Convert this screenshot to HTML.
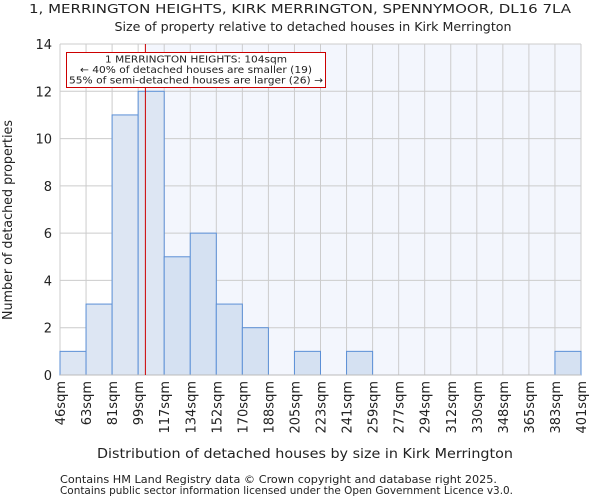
<!DOCTYPE html>
<html><head><meta charset="utf-8"><style>
body{margin:0;background:#fff;font-family:"DejaVu Sans","Liberation Sans",sans-serif;}
svg text{font-family:"DejaVu Sans","Liberation Sans",sans-serif;fill:#222;}
</style></head><body>
<svg id="c" width="600" height="500" xmlns="http://www.w3.org/2000/svg">
<text x="300" y="13" font-size="12.5" text-anchor="middle" textLength="542" lengthAdjust="spacingAndGlyphs">1, MERRINGTON HEIGHTS, KIRK MERRINGTON, SPENNYMOOR, DL16 7LA</text>
<text x="313" y="31" font-size="12.5" text-anchor="middle" textLength="397" lengthAdjust="spacingAndGlyphs">Size of property relative to detached houses in Kirk Merrington</text>
<g id="plot"></g>
<text x="305" y="458" font-size="13" text-anchor="middle" textLength="416" lengthAdjust="spacingAndGlyphs">Distribution of detached houses by size in Kirk Merrington</text>
<text transform="translate(12,220) rotate(-90)" font-size="13" text-anchor="middle" textLength="200" lengthAdjust="spacingAndGlyphs">Number of detached properties</text>
<text x="60" y="483" font-size="10.5" textLength="437" lengthAdjust="spacingAndGlyphs">Contains HM Land Registry data © Crown copyright and database right 2025.</text>
<text x="60" y="494" font-size="10.5" textLength="453" lengthAdjust="spacingAndGlyphs">Contains public sector information licensed under the Open Government Licence v3.0.</text>
</svg>
<script>
const binLabels=["46sqm","63sqm","81sqm","99sqm","117sqm","134sqm","152sqm","170sqm","188sqm","205sqm","223sqm","241sqm","259sqm","277sqm","294sqm","312sqm","330sqm","348sqm","365sqm","383sqm","401sqm"];
const binEdges=[46,63,81,99,117,134,152,170,188,205,223,241,259,277,294,312,330,348,365,383,401];
const counts=[1,3,11,12,5,6,3,2,0,1,0,1,0,0,0,0,0,0,0,1];
const yTicks=[0,2,4,6,8,10,12,14];
const propertySize=104;
const NS="http://www.w3.org/2000/svg";
const X0=60,X1=581,Y0=375,Y1=44,YMAX=14;
const n=counts.length;
const xi=i=>X0+(X1-X0)*i/n;
function xv(v){let i=0;while(i<n-1&&v>binEdges[i+1])i++;return xi(i)+(v-binEdges[i])/(binEdges[i+1]-binEdges[i])*(X1-X0)/n;}
const y=v=>Y0-(Y0-Y1)*v/YMAX;
const g=document.getElementById('plot');
function el(t,a){const e=document.createElementNS(NS,t);for(const k in a)e.setAttribute(k,a[k]);g.appendChild(e);return e;}
const px=xv(propertySize);
let bg=el('rect',{x:px,y:Y1,width:X1-px,height:Y0-Y1,fill:'#f3f6fd'});


yTicks.forEach(t=>{
 const l=el('line',{x1:X0,x2:X1,y1:y(t),y2:y(t),stroke:'#cccccc'});
 
 
 const tx=el('text',{x:X0-8,y:y(t)+5,'font-size':13,'text-anchor':'end'});tx.textContent=t;
 
 
});
for(let i=0;i<=n;i++){
 const l=el('line',{x1:xi(i),x2:xi(i),y1:Y1,y2:Y0,stroke:'#cccccc'});
 
 
}
counts.forEach((c,i)=>{
 if(c<=0)return;
 const r=el('rect',{x:xi(i),y:y(c),width:(X1-X0)/n,height:Y0-y(c),fill:xi(i)+1<px?'#dde6f3':'#d5e1f2',stroke:'#5b8fd6','stroke-width':1});
 
 
});
binLabels.forEach((b,i)=>{
 const t=el('text',{transform:`translate(${xi(i)+5},381) rotate(-90)`,'font-size':13,'text-anchor':'end'});t.textContent=b;
 
 
});
const ax=el('line',{x1:X0,x2:X1,y1:Y0,y2:Y0,stroke:'#bbbbbb'});


const rl=el('line',{x1:px,x2:px,y1:Y1,y2:Y0,stroke:'#cc0000','stroke-width':1});


const box=el('rect',{x:66.5,y:52.5,width:259,height:35,fill:'#fff',stroke:'#cc0000'});


const annLines=["1 MERRINGTON HEIGHTS: 104sqm","← 40% of detached houses are smaller (19)","55% of semi-detached houses are larger (26) →"];
const annLens=[182,232,254];
annLines.forEach((s,k)=>{
 const t=el('text',{x:196,y:62.5+k*10.5,'font-size':10,'text-anchor':'middle',textLength:annLens[k],lengthAdjust:'spacingAndGlyphs'});t.textContent=s;
 
 
});
</script>
</body></html>
